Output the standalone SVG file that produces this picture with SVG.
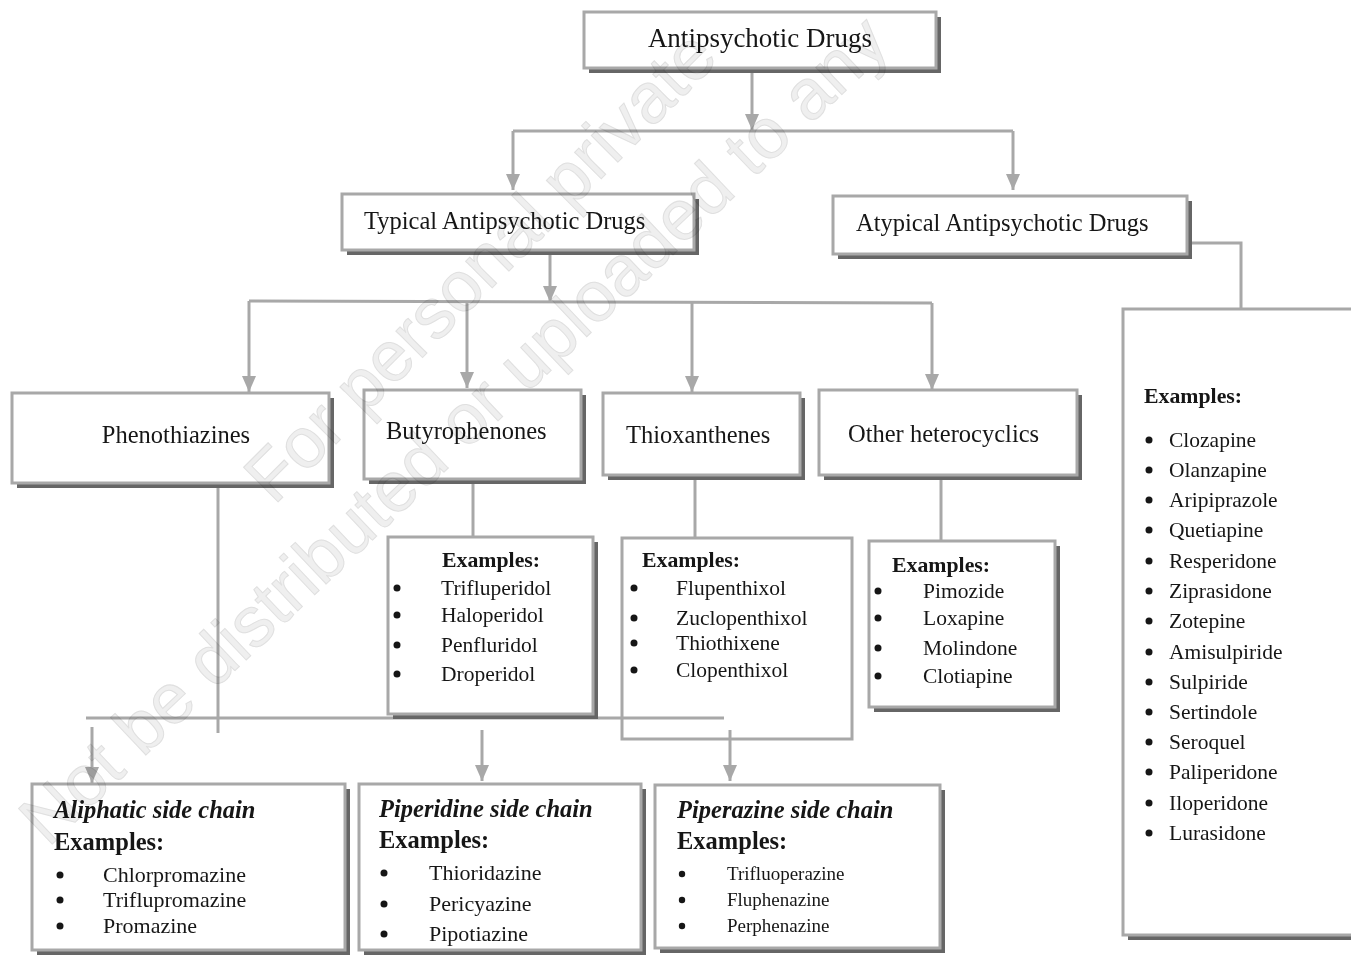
<svg xmlns="http://www.w3.org/2000/svg" width="1351" height="955" viewBox="0 0 1351 955">
<style>
.box{fill:#fff;stroke:#a8a8a8;stroke-width:3}
.sh{fill:#666}
.conn{stroke:#a8a8a8;stroke-width:3;fill:none}
.arr{marker-end:url(#ah)}
text{font-family:"Liberation Serif","Times New Roman",serif;fill:#161616}
.lbl{font-size:24.5px}
.title{font-size:27px}
.ex{font-size:21.8px;font-weight:bold}
.it{font-size:21.5px}
.hd{font-size:24.5px;font-weight:bold;font-style:italic}
.exb{font-size:24.5px;font-weight:bold}
.it2{font-size:22px}
.it3{font-size:19px}
.bul{fill:#161616}
.wm{font-family:"Liberation Sans",Arial,sans-serif;font-size:71px;fill:#efefef;stroke:#e0e0e0;stroke-width:1;mix-blend-mode:multiply}
</style>
<defs>
<marker id="ah" viewBox="0 0 16 14" refX="16" refY="7" markerWidth="16" markerHeight="14" markerUnits="userSpaceOnUse" orient="auto">
<path d="M0,0 L16,7 L0,14 z" fill="#a8a8a8"/>
</marker>
</defs>

<g id="connectors">
<line class="conn arr" x1="752" y1="68" x2="752" y2="130"/>
<line class="conn" x1="513" y1="131" x2="1013" y2="131"/>
<line class="conn arr" x1="513" y1="131" x2="513" y2="190"/>
<line class="conn arr" x1="1013" y1="131" x2="1013" y2="190"/>
<line class="conn arr" x1="550" y1="250" x2="550" y2="302"/>
<line class="conn" x1="249" y1="301" x2="932" y2="303"/>
<line class="conn arr" x1="249" y1="301" x2="249" y2="392"/>
<line class="conn arr" x1="467" y1="302" x2="467" y2="388"/>
<line class="conn arr" x1="692" y1="302" x2="692" y2="392"/>
<line class="conn arr" x1="932" y1="303" x2="932" y2="390"/>
<polyline class="conn" points="1187,243 1241,243 1241,309"/>
<line class="conn" x1="218" y1="483" x2="218" y2="733"/>
<line class="conn" x1="473" y1="479" x2="473" y2="537"/>
<line class="conn" x1="695" y1="475" x2="695" y2="538"/>
<line class="conn" x1="941" y1="475" x2="941" y2="541"/>
<line class="conn" x1="86" y1="718" x2="724" y2="718"/>
<line class="conn arr" x1="92" y1="727" x2="92" y2="783"/>
<line class="conn arr" x1="482" y1="730" x2="482" y2="781"/>
<line class="conn arr" x1="730" y1="730" x2="730" y2="781"/>
</g>

<g id="n-antipsychotic">
<rect class="sh" x="589" y="17" width="352" height="56"/>
<rect class="box" x="584" y="12" width="352" height="56"/>
<text class="title" x="760" y="47" text-anchor="middle">Antipsychotic Drugs</text>
</g>

<g id="n-typical">
<rect class="sh" x="347" y="199" width="352" height="56"/>
<rect class="box" x="342" y="194" width="352" height="56"/>
<text class="lbl" x="364" y="229">Typical Antipsychotic Drugs</text>
</g>

<g id="n-atypical">
<rect class="sh" x="838" y="201" width="354" height="58"/>
<rect class="box" x="833" y="196" width="354" height="58"/>
<text class="lbl" x="856" y="231">Atypical Antipsychotic Drugs</text>
</g>

<g id="n-phenothiazines">
<rect class="sh" x="17" y="398" width="317" height="90"/>
<rect class="box" x="12" y="393" width="317" height="90"/>
<text class="lbl" x="176" y="443" text-anchor="middle">Phenothiazines</text>
</g>

<g id="n-butyrophenones">
<rect class="sh" x="369" y="395" width="217" height="89"/>
<rect class="box" x="364" y="390" width="217" height="89"/>
<text class="lbl" x="386" y="439">Butyrophenones</text>
</g>

<g id="n-thioxanthenes">
<rect class="sh" x="608" y="398" width="197" height="82"/>
<rect class="box" x="603" y="393" width="197" height="82"/>
<text class="lbl" x="626" y="443">Thioxanthenes</text>
</g>

<g id="n-other">
<rect class="sh" x="824" y="395" width="258" height="85"/>
<rect class="box" x="819" y="390" width="258" height="85"/>
<text class="lbl" x="848" y="442">Other heterocyclics</text>
</g>

<g id="n-butyro-examples">
<rect class="sh" x="393" y="542" width="205" height="177"/>
<rect class="box" x="388" y="537" width="205" height="177"/>
<text class="ex" x="442" y="567">Examples:</text>
<circle class="bul" cx="397" cy="588" r="3.5"/><text class="it" x="441" y="595">Trifluperidol</text>
<circle class="bul" cx="397" cy="615" r="3.5"/><text class="it" x="441" y="622">Haloperidol</text>
<circle class="bul" cx="397" cy="645" r="3.5"/><text class="it" x="441" y="652">Penfluridol</text>
<circle class="bul" cx="397" cy="674" r="3.5"/><text class="it" x="441" y="681">Droperidol</text>
</g>

<g id="n-thiox-examples">
<rect class="box" x="622" y="538" width="230" height="201" style="fill:none"/>
<text class="ex" x="642" y="567">Examples:</text>
<circle class="bul" cx="634" cy="588" r="3.5"/><text class="it" x="676" y="595">Flupenthixol</text>
<circle class="bul" cx="634" cy="618" r="3.5"/><text class="it" x="676" y="625">Zuclopenthixol</text>
<circle class="bul" cx="634" cy="643" r="3.5"/><text class="it" x="676" y="650">Thiothixene</text>
<circle class="bul" cx="634" cy="670" r="3.5"/><text class="it" x="676" y="677">Clopenthixol</text>
</g>

<g id="n-other-examples">
<rect class="sh" x="874" y="546" width="186" height="166"/>
<rect class="box" x="869" y="541" width="186" height="166"/>
<text class="ex" x="892" y="572">Examples:</text>
<circle class="bul" cx="878" cy="591" r="3.5"/><text class="it" x="923" y="598">Pimozide</text>
<circle class="bul" cx="878" cy="618" r="3.5"/><text class="it" x="923" y="625">Loxapine</text>
<circle class="bul" cx="878" cy="648" r="3.5"/><text class="it" x="923" y="655">Molindone</text>
<circle class="bul" cx="878" cy="676" r="3.5"/><text class="it" x="923" y="683">Clotiapine</text>
</g>

<g id="n-atypical-examples">
<rect class="sh" x="1128" y="314" width="240" height="626"/>
<rect class="box" x="1123" y="309" width="240" height="626"/>
<text class="ex" x="1144" y="403">Examples:</text>
<circle class="bul" cx="1149" cy="440" r="3.5"/><text class="it" x="1169" y="447">Clozapine</text>
<circle class="bul" cx="1149" cy="470" r="3.5"/><text class="it" x="1169" y="477">Olanzapine</text>
<circle class="bul" cx="1149" cy="500" r="3.5"/><text class="it" x="1169" y="507">Aripiprazole</text>
<circle class="bul" cx="1149" cy="530" r="3.5"/><text class="it" x="1169" y="537">Quetiapine</text>
<circle class="bul" cx="1149" cy="561" r="3.5"/><text class="it" x="1169" y="568">Resperidone</text>
<circle class="bul" cx="1149" cy="591" r="3.5"/><text class="it" x="1169" y="598">Ziprasidone</text>
<circle class="bul" cx="1149" cy="621" r="3.5"/><text class="it" x="1169" y="628">Zotepine</text>
<circle class="bul" cx="1149" cy="652" r="3.5"/><text class="it" x="1169" y="659">Amisulpiride</text>
<circle class="bul" cx="1149" cy="682" r="3.5"/><text class="it" x="1169" y="689">Sulpiride</text>
<circle class="bul" cx="1149" cy="712" r="3.5"/><text class="it" x="1169" y="719">Sertindole</text>
<circle class="bul" cx="1149" cy="742" r="3.5"/><text class="it" x="1169" y="749">Seroquel</text>
<circle class="bul" cx="1149" cy="772" r="3.5"/><text class="it" x="1169" y="779">Paliperidone</text>
<circle class="bul" cx="1149" cy="803" r="3.5"/><text class="it" x="1169" y="810">Iloperidone</text>
<circle class="bul" cx="1149" cy="833" r="3.5"/><text class="it" x="1169" y="840">Lurasidone</text>
</g>

<g id="n-aliphatic">
<rect class="sh" x="37" y="789" width="313" height="166"/>
<rect class="box" x="32" y="784" width="313" height="166"/>
<text class="hd" x="54" y="818">Aliphatic side chain</text>
<text class="exb" x="54" y="850">Examples:</text>
<circle class="bul" cx="60" cy="875" r="3.5"/><text class="it2" x="103" y="882">Chlorpromazine</text>
<circle class="bul" cx="60" cy="900" r="3.5"/><text class="it2" x="103" y="907">Triflupromazine</text>
<circle class="bul" cx="60" cy="926" r="3.5"/><text class="it2" x="103" y="933">Promazine</text>
</g>

<g id="n-piperidine">
<rect class="sh" x="364" y="789" width="282" height="166"/>
<rect class="box" x="359" y="784" width="282" height="166"/>
<text class="hd" x="379" y="817">Piperidine side chain</text>
<text class="exb" x="379" y="848">Examples:</text>
<circle class="bul" cx="384" cy="873" r="3.5"/><text class="it2" x="429" y="880">Thioridazine</text>
<circle class="bul" cx="384" cy="904" r="3.5"/><text class="it2" x="429" y="911">Pericyazine</text>
<circle class="bul" cx="384" cy="934" r="3.5"/><text class="it2" x="429" y="941">Pipotiazine</text>
</g>

<g id="n-piperazine">
<rect class="sh" x="660" y="790" width="285" height="163"/>
<rect class="box" x="655" y="785" width="285" height="163"/>
<text class="hd" x="677" y="818">Piperazine side chain</text>
<text class="exb" x="677" y="849">Examples:</text>
<circle class="bul" cx="682" cy="874" r="3.2"/><text class="it3" x="727" y="880">Trifluoperazine</text>
<circle class="bul" cx="682" cy="900" r="3.2"/><text class="it3" x="727" y="906">Fluphenazine</text>
<circle class="bul" cx="682" cy="926" r="3.2"/><text class="it3" x="727" y="932">Perphenazine</text>
</g>

<g id="watermark">
<text class="wm" transform="translate(274,506) rotate(-45)">For personal private</text>
<text class="wm" transform="translate(48,848) rotate(-43.5)">Not be distributed or uploaded to any</text>
</g>
</svg>
